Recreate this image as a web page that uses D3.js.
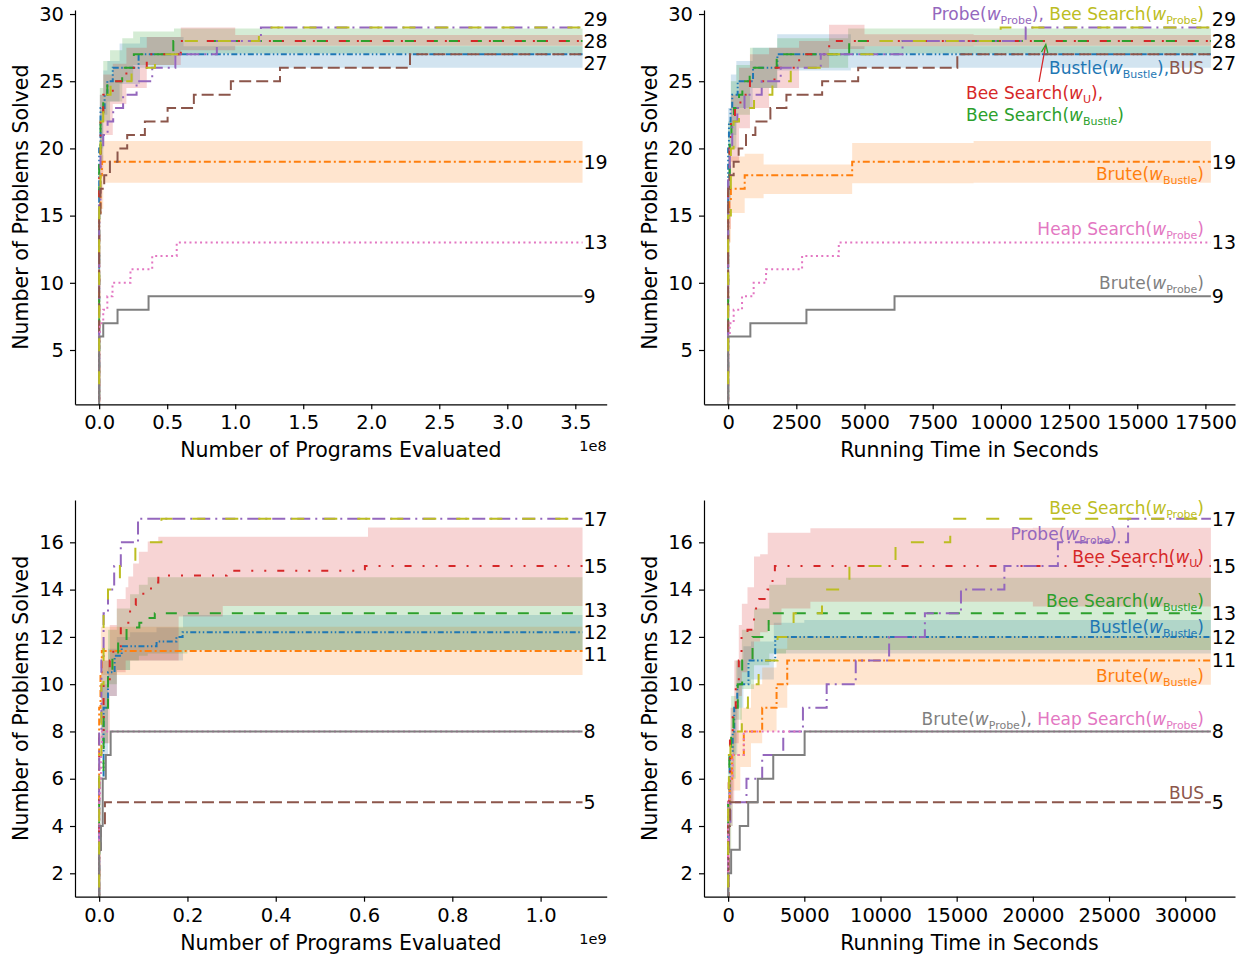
<!DOCTYPE html>
<html>
<head>
<meta charset="utf-8">
<script src="https://d3js.org/d3.v7.min.js"></script>
<style>
  body { margin: 0; background: white; }
  svg { font-family: "DejaVu Sans", sans-serif; }
  .tick text { font-size: 19.5px; fill: #000; }
  .tick line, .domain { stroke: #000; stroke-width: 1.2px; }
  .endlab { font-size: 19px; }
  .axlab { font-size: 20.5px; }
</style>
</head>
<body>
<div id="chart"></div>
<script>

// ---------- DATA (step points [x, y]; bands [x, lo, hi]) ----------

// top left: programs evaluated (1e8)
var tlXMax = 3.553;
var tlXTicks = [0, 0.5, 1, 1.5, 2, 2.5, 3, 3.5];
var tlBustle = [[0,0],[0,20],[0.01,23],[0.04,24],[0.06,25],[0.1,26],[0.29,27]];
var tlBruteB = [[0,0],[0,15],[0.01,18],[0.02,19]];
var tlBeeB = [[0,0],[0,19],[0.01,22],[0.03,24],[0.06,25],[0.169,26],[0.255,27],[0.545,28]];
var tlBeeU = [[0,0],[0,18],[0.01,22],[0.03,24],[0.1,25],[0.2,26],[0.35,27],[0.6,28]];
var tlProbe = [[0,0],[0,16],[0.01,20],[0.03,21],[0.062,22],[0.103,23],[0.176,24],[0.275,25],[0.39,26],[0.56,27],[0.865,28],[1.189,29]];
var tlBus = [[0,0],[0,15],[0.01,17],[0.037,18],[0.079,19],[0.135,20],[0.206,21],[0.336,22],[0.503,23],[0.696,24],[0.968,25],[1.329,26],[2.285,27]];
var tlHeap = [[0,0],[0,6],[0.005,7],[0.03,8],[0.06,9],[0.098,10],[0.23,11],[0.39,12],[0.57,13]];
var tlBruteP = [[0,0],[0,6],[0.03,7],[0.135,8],[0.363,9]];
var tlBeeP = [[0,0],[0,17],[0.01,22],[0.03,24],[0.084,25],[0.238,26],[0.41,27],[0.6,28],[1.174,29]];
var tlBustleBand = [[0.005,20,24],[0.03,22.5,25.8],[0.06,23.5,26.5],[0.15,24.8,27.8],[0.3,26,28.3],[0.62,26,27.6]];
var tlBruteBBand = [[0.005,15.5,19.5],[0.03,17.45,20.55]];
var tlBeeBBand = [[0.005,19,24.5],[0.03,22,26.5],[0.08,23.5,27.3],[0.17,25,28.2],[0.25,26.2,28.7],[0.55,27.07,28.93]];
var tlBeeUBand = [[0.005,18,24],[0.03,21,25.5],[0.1,23.3,26.3],[0.2,24.5,27.5],[0.35,26.2,28.3],[0.6,27.3,29],[1.0,27.64,28.44]];

// top right: running time (s)
var trXMax = 17700;
var trXTicks = [0, 2500, 5000, 7500, 10000, 12500, 15000, 17500];
var trBustle = [[0,0],[0,20],[30,22],[90,23],[150,24],[350,25],[913,26],[1806,27]];
var trBruteB = [[0,0],[0,15],[40,16],[100,17],[607,18],[4548,19]];
var trBeeB = [[0,0],[0,18],[60,21],[120,22],[216,23],[400,24],[521,25],[790,26],[1781,27],[4438,28]];
var trBeeU = [[0,0],[0,17],[50,20],[100,22],[250,23],[450,24],[800,25],[1700,26],[2603,27],[3704,28]];
var trProbe = [[0,0],[0,18],[60,20],[150,22],[338,23],[600,24],[1231,25],[1928,26],[3396,27],[6395,28],[10910,29]];
var trBus = [[0,0],[0,17],[60,18],[203,19],[386,20],[656,21],[999,22],[1549,23],[2137,24],[3447,25],[4768,26],[8403,27]];
var trHeap = [[0,0],[0,6],[60,7],[203,8],[510,9],[936,10],[1391,11],[2712,12],[4057,13]];
var trBruteP = [[0,0],[0,6],[815,7],[2871,8],[6101,9]];
var trBeeP = [[0,0],[0,15],[100,20],[200,22],[399,23],[950,24],[1623,25],[2296,26],[3641,27],[5294,28],[9993,29]];
var trBustleBand = [[0,17,23],[100,21,25.5],[300,23,26.5],[900,24.5,27.5],[1800,25.8,28.5],[4500,26,27.6]];
var trBruteBBand = [[0,13,16],[100,15.2,19.4],[607,16.3,19.6],[1300,16.6,18.8],[4548,17.4,20.4],[9000,17.45,20.55]];
var trBeeBBand = [[0,16,22],[100,20,25],[300,22.5,26.2],[800,24.5,27.5],[1800,26,28.2],[4400,27.07,28.93]];
var trBeeUBand = [[0,14,20],[100,19,24],[400,21.5,26],[800,23,27],[1500,24.5,27.5],[2600,26,28],[3700,27.4,29.2],[5000,27.6,28.5],[9000,27.64,28.44]];

// bottom left: programs evaluated (1e9)
var blXMax = 1.095;
var blXTicks = [0, 0.2, 0.4, 0.6, 0.8, 1.0];
var blBustle = [[0,0],[0,6],[0.01,9],[0.02,10.5],[0.035,11.2],[0.051,11.6],[0.13,11.8],[0.175,12.0],[0.189,12.2]];
var blBruteB = [[0,0],[0,9],[0.003,10.5],[0.006,11.4]];
var blBeeB = [[0,0],[0,6],[0.01,9],[0.02,10.5],[0.03,11.2],[0.043,11.8],[0.062,12.4],[0.091,12.6],[0.1,12.8],[0.126,13.0]];
var blBeeU = [[0,0],[0,8],[0.01,10],[0.024,11],[0.032,11.6],[0.049,12.5],[0.066,12.9],[0.07,13.35],[0.083,13.7],[0.1,14.05],[0.125,14.3],[0.134,14.6],[0.289,14.8],[0.602,15.0]];
var blProbe = [[0,0],[0,8],[0.005,11],[0.01,13],[0.02,14],[0.034,15],[0.049,16],[0.088,17]];
var blBus = [[0,0],[0,3],[0.004,4],[0.013,5]];
var blHeap = [[0,0],[0,5],[0.002,6],[0.004,7],[0.006,8]];
var blBruteP = [[0,0],[0,3],[0.004,4],[0.008,6],[0.015,7],[0.026,8]];
var blBeeP = [[0,0],[0,7],[0.005,10],[0.01,13],[0.02,14],[0.047,15],[0.082,16],[0.141,17]];
var blBustleBand = [[0.005,7,10],[0.02,9.5,11.5],[0.04,10.6,12],[0.07,11,12.2],[0.13,11,12.4],[0.19,11.43,12.93]];
var blBruteBBand = [[0.004,10.39,12.43]];
var blBeeBBand = [[0.005,7.5,11],[0.02,10,12.3],[0.04,10.6,13.2],[0.07,11,13.8],[0.09,11.2,14.2],[0.11,11.3,14.52],[0.2,11.44,14.52]];
var blBeeUBand = [[0.005,7.5,11],[0.024,9.5,12.5],[0.04,10.5,13.6],[0.06,11,14.1],[0.066,11,14.55],[0.077,11,15.1],[0.09,11,15.6],[0.11,11,16.03],[0.134,11,16.24],[0.18,12.86,16.24],[0.28,13.31,16.24],[0.609,13.31,16.63]];

// bottom right: running time (s)
var brXMax = 31684;
var brXTicks = [0, 5000, 10000, 15000, 20000, 25000, 30000];
var brBustle = [[0,0],[0,5],[100,7],[300,8],[400,9],[600,10],[1336,11],[3090,12]];
var brBruteB = [[0,0],[0,4],[30,5],[100,6],[250,7],[1028,8],[2235,9],[3178,10],[3879,11]];
var brBeeB = [[0,0],[0,5],[80,7],[200,8],[350,9],[632,10],[921,11],[1600,12],[2660,13]];
var brBeeU = [[0,0],[0,4],[40,6],[120,8],[300,9],[500,10],[700,11],[880,12],[1270,12.3],[1700,13.2],[2037,13.6],[2586,14.0],[2914,14.5],[3068,15]];
var brProbe = [[0,0],[0,3],[50,4],[150,5],[1204,6],[2235,7],[3618,8],[4910,9],[6467,10],[8375,11],[10566,12],[12914,13],[15283,14],[18132,15],[21645,16],[26250,17]];
var brBus = [[0,0],[30,4],[120,5]];
var brHeap = [[0,0],[0,5],[100,6],[300,7],[1028,8]];
var brBruteP = [[0,0],[0,2],[197,3],[763,4],[1316,5],[1947,6],[2961,7],[5020,8]];
var brBeeP = [[0,0],[0,5],[50,7],[150,8],[900,9],[1300,10],[2000,11],[3243,12],[4296,13],[6160,14],[7960,15],[10987,16],[14579,17]];
var brBustleBand = [[0,4,6],[300,7,9],[600,9,11],[1000,10,11.6],[1500,10.2,11.8],[3000,11.3,12.6],[5000,11.3,12.71]];
var brBruteBBand = [[0,3,5],[100,4,6.5],[300,5.5,8],[800,6.5,9],[1500,7.5,10],[2235,8,10.7],[3178,9,11.5],[3879,9.97,12.03]];
var brBeeBBand = [[0,3,7],[200,6,9.5],[500,8.5,11],[900,9.8,12.3],[1700,10.8,13.2],[2700,11.3,14.2],[3800,11.45,14.5]];
var brBeeUBand = [[0,2,6],[150,5,9],[400,7.5,11],[700,9.5,12.5],[900,10.5,13.4],[1270,11,14.1],[1700,11.8,15.4],[2100,12.2,15.5],[2600,12.5,16.4],[3500,13.2,16.4],[5400,13.49,16.59],[20000,13.28,16.62]];

var topYTicks = [5, 10, 15, 20, 25, 30];
var botYTicks = [2, 4, 6, 8, 10, 12, 14, 16];
var topYDomain = [0.96, 30.3];
var botYDomain = [1.01, 17.79];

// ---------- STYLE ----------

var series = [
  {key: "bustle", color: "#1f77b4", dash: "6,2.5,1.5,2.5,1.5,2.5"},
  {key: "bruteB", color: "#ff7f0e", dash: "7,3,2,3"},
  {key: "beeB",   color: "#2ca02c", dash: "11,11"},
  {key: "beeU",   color: "#d62728", dash: "7,11,2,11,2,11"},
  {key: "probe",  color: "#9467bd", dash: "13,5,2,5"},
  {key: "bus",    color: "#8c564b", dash: "12,5"},
  {key: "heap",   color: "#e377c2", dash: "2,3.3"},
  {key: "bruteP", color: "#7f7f7f", dash: null},
  {key: "beeP",   color: "#bcbd22", dash: "13,20"}
];
var col = {};
series.forEach(function(s) { col[s.key] = s.color; });

var panels = [
  {lines: {bustle: tlBustle, bruteB: tlBruteB, beeB: tlBeeB, beeU: tlBeeU, probe: tlProbe, bus: tlBus, heap: tlHeap, bruteP: tlBruteP, beeP: tlBeeP},
   bands: {bustle: tlBustleBand, bruteB: tlBruteBBand, beeB: tlBeeBBand, beeU: tlBeeUBand},
   xMax: tlXMax, xTicks: tlXTicks, fmt: d3.format(".1f"), yTicks: topYTicks, yDomain: topYDomain,
   xLabel: "Number of Programs Evaluated", offset: "1e8",
   l: 75, r: 606.7, t: 10, b: 404.3, ylabX: 28},
  {lines: {bustle: trBustle, bruteB: trBruteB, beeB: trBeeB, beeU: trBeeU, probe: trProbe, bus: trBus, heap: trHeap, bruteP: trBruteP, beeP: trBeeP},
   bands: {bustle: trBustleBand, bruteB: trBruteBBand, beeB: trBeeBBand, beeU: trBeeUBand},
   xMax: trXMax, xTicks: trXTicks, fmt: d3.format("d"), yTicks: topYTicks, yDomain: topYDomain,
   xLabel: "Running Time in Seconds", offset: null,
   l: 704, r: 1235, t: 10, b: 404.3, ylabX: 657},
  {lines: {bustle: blBustle, bruteB: blBruteB, beeB: blBeeB, beeU: blBeeU, probe: blProbe, bus: blBus, heap: blHeap, bruteP: blBruteP, beeP: blBeeP},
   bands: {bustle: blBustleBand, bruteB: blBruteBBand, beeB: blBeeBBand, beeU: blBeeUBand},
   xMax: blXMax, xTicks: blXTicks, fmt: d3.format(".1f"), yTicks: botYTicks, yDomain: botYDomain,
   xLabel: "Number of Programs Evaluated", offset: "1e9",
   l: 75, r: 606.7, t: 500, b: 896.7, ylabX: 28},
  {lines: {bustle: brBustle, bruteB: brBruteB, beeB: brBeeB, beeU: brBeeU, probe: brProbe, bus: brBus, heap: brHeap, bruteP: brBruteP, beeP: brBeeP},
   bands: {bustle: brBustleBand, bruteB: brBruteBBand, beeB: brBeeBBand, beeU: brBeeUBand},
   xMax: brXMax, xTicks: brXTicks, fmt: d3.format("d"), yTicks: botYTicks, yDomain: botYDomain,
   xLabel: "Running Time in Seconds", offset: null,
   l: 704, r: 1235, t: 500, b: 896.7, ylabX: 657}
];

var svg = d3.select("#chart").append("svg")
  .attr("width", 1246).attr("height", 955)
  .style("background", "white");

panels.forEach(function(p, pi) {
  var x = d3.scaleLinear().domain([-0.05 * p.xMax, 1.05 * p.xMax]).range([p.l, p.r]);
  var y = d3.scaleLinear().domain(p.yDomain).range([p.b, p.t]);
  var g = svg.append("g");

  g.append("clipPath").attr("id", "clip" + pi)
    .append("rect").attr("x", p.l).attr("y", p.t).attr("width", p.r - p.l).attr("height", p.b - p.t);
  var plot = g.append("g").attr("clip-path", "url(#clip" + pi + ")");

  var area = d3.area().curve(d3.curveStepAfter)
    .x(function(d) { return x(d[0]); })
    .y0(function(d) { return y(d[1]); })
    .y1(function(d) { return y(d[2]); });
  var line = d3.line().curve(d3.curveStepAfter)
    .x(function(d) { return x(d[0]); })
    .y(function(d) { return y(d[1]); });

  // bands under all lines
  series.forEach(function(s) {
    var b = p.bands[s.key];
    if (!b) return;
    var last = b[b.length - 1];
    plot.append("path")
      .attr("d", area(b.concat([[p.xMax, last[1], last[2]]])))
      .attr("fill", s.color).attr("fill-opacity", 0.2).attr("stroke", "none");
  });

  series.forEach(function(s) {
    var d = p.lines[s.key];
    var last = d[d.length - 1];
    plot.append("path")
      .attr("d", line(d.concat([[p.xMax, last[1]]])))
      .attr("fill", "none").attr("stroke", s.color).attr("stroke-width", 2)
      .attr("stroke-dasharray", s.dash);
  });

  // axes
  g.append("g").attr("transform", "translate(0," + p.b + ")")
    .call(d3.axisBottom(x).tickValues(p.xTicks).tickFormat(p.fmt).tickSize(5).tickSizeOuter(0).tickPadding(6));
  g.append("g").attr("transform", "translate(" + p.l + ",0)")
    .call(d3.axisLeft(y).tickValues(p.yTicks).tickSize(5).tickSizeOuter(0).tickPadding(6));
  g.selectAll(".tick text").style("font-family", "DejaVu Sans");

  g.append("text").attr("class", "axlab")
    .attr("x", (p.l + p.r) / 2).attr("y", p.b + 53)
    .attr("text-anchor", "middle").text(p.xLabel);
  g.append("text").attr("class", "axlab")
    .attr("transform", "translate(" + p.ylabX + "," + (p.t + p.b) / 2 + ") rotate(-90)")
    .attr("text-anchor", "middle").text("Number of Problems Solved");
  if (p.offset) {
    g.append("text").attr("x", p.r).attr("y", p.b + 47)
      .attr("text-anchor", "end").style("font-size", "14.5px").text(p.offset);
  }

  // end value labels, grouped by rounded value, spread when crowded
  var groups = d3.groups(series.map(function(s) { var d = p.lines[s.key]; return d[d.length - 1][1]; }),
    function(v) { return Math.round(v); });
  var labs = groups.map(function(gr) { return {text: gr[0], y: y(d3.mean(gr[1]))}; })
    .sort(function(a, b) { return a.y - b.y; });
  var clusters = [];
  labs.forEach(function(l) {
    var c = clusters[clusters.length - 1];
    if (c && l.y - c[c.length - 1].y < 21) c.push(l); else clusters.push([l]);
  });
  clusters.forEach(function(c) {
    var m = d3.mean(c, function(l) { return l.y; });
    c.forEach(function(l, i) { l.y = m + (i - (c.length - 1) / 2) * 22; });
  });
  g.selectAll(".endlab").data(labs).enter().append("text")
    .attr("class", "endlab")
    .attr("x", x(p.xMax) + 1).attr("y", function(d) { return d.y; })
    .attr("dy", "0.36em").text(function(d) { return d.text; });
});

// ---------- ANNOTATIONS ----------

function lab(name, sub, color, tail) {
  return [[name + "(", color], ["w", color, "i"], [sub, color, "sub"], [")" + (tail || ""), color]];
}
function rich(x, y, anchor, parts) {
  var t = svg.append("text").attr("x", x).attr("y", y).attr("text-anchor", anchor).style("font-size", "17px");
  var shifted = false;
  parts.forEach(function(q) {
    var s = t.append("tspan").text(q[0]).attr("fill", q[1]);
    if (q[2] === "i") s.style("font-style", "italic");
    if (q[2] === "sub") { s.style("font-size", "11px").attr("dy", 4); shifted = true; }
    else if (shifted) { s.attr("dy", -4); shifted = false; }
  });
}

var trNotes = [
  [1204, 19.5, "end", lab("Probe", "Probe", col.probe, ", ").concat(lab("Bee Search", "Probe", col.beeP))],
  [1204, 73.5, "end", lab("Bustle", "Bustle", col.bustle, ",").concat([["BUS", col.bus]])],
  [966, 98.5, "start", lab("Bee Search", "U", col.beeU, ",")],
  [966, 120.5, "start", lab("Bee Search", "Bustle", col.beeB)],
  [1204, 180, "end", lab("Brute", "Bustle", col.bruteB)],
  [1204, 235, "end", lab("Heap Search", "Probe", col.heap)],
  [1204, 288.5, "end", lab("Brute", "Probe", col.bruteP)]
];
var brNotes = [
  [1204, 513.5, "end", lab("Bee Search", "Probe", col.beeP)],
  [1117, 540, "end", lab("Probe", "Probe", col.probe)],
  [1204, 562.5, "end", lab("Bee Search", "U", col.beeU)],
  [1204, 607, "end", lab("Bee Search", "Bustle", col.beeB)],
  [1204, 633, "end", lab("Bustle", "Bustle", col.bustle)],
  [1204, 682, "end", lab("Brute", "Bustle", col.bruteB)],
  [1204, 725, "end", lab("Brute", "Probe", col.bruteP, ", ").concat(lab("Heap Search", "Probe", col.heap))],
  [1204, 798.5, "end", [["BUS", col.bus]]]
];
trNotes.concat(brNotes).forEach(function(n) { rich(n[0], n[1], n[2], n[3]); });

// arrow pointing at the 28 line
svg.append("line").attr("x1", 1039).attr("y1", 82).attr("x2", 1045.5).attr("y2", 46)
  .attr("stroke", col.beeU).attr("stroke-width", 1.3);
svg.append("path").attr("d", "M1041.5,52 L1045.8,44.5 L1047.8,53")
  .attr("fill", "none").attr("stroke", col.beeB).attr("stroke-width", 1.3);

</script>
</body>
</html>
